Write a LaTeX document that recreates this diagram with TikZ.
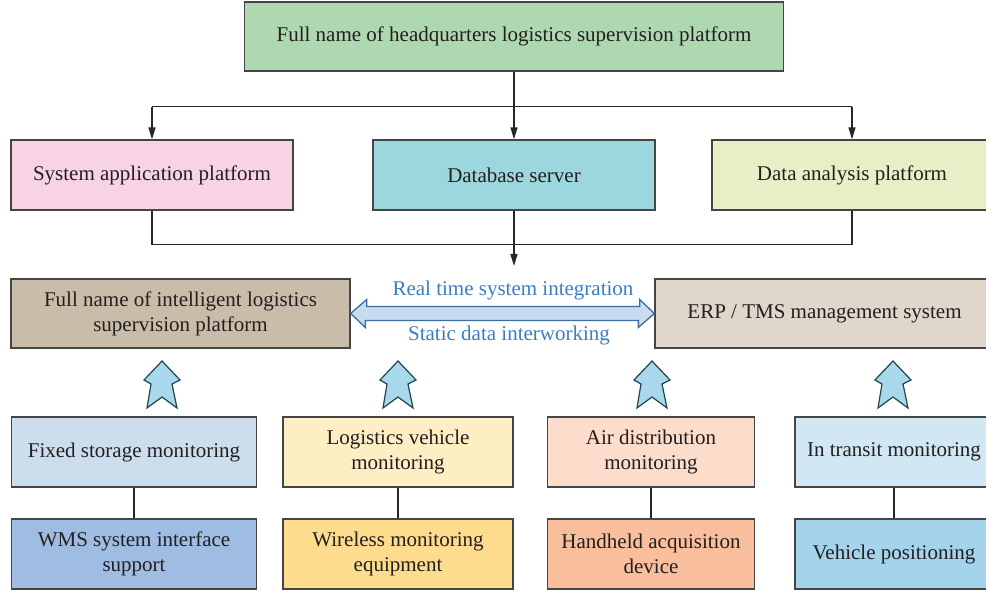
\documentclass[tikz,border=0pt]{standalone}
\usepackage{fontspec}
\setmainfont{Liberation Serif}
\usetikzlibrary{arrows.meta}
\definecolor{boxline}{HTML}{454545}
\definecolor{textgray}{HTML}{231F20}
\definecolor{hqgreen}{HTML}{AED8B0}
\definecolor{apppink}{HTML}{F8D3E5}
\definecolor{dbteal}{HTML}{9DD7DE}
\definecolor{anagreen}{HTML}{E6EFC6}
\definecolor{inteltan}{HTML}{C9BCA9}
\definecolor{erpgray}{HTML}{E0D6CA}
\definecolor{fixtop}{HTML}{CCDDEE}
\definecolor{fixbot}{HTML}{9FBDE2}
\definecolor{vehtop}{HTML}{FDEEC4}
\definecolor{vehbot}{HTML}{FDDC8D}
\definecolor{airtop}{HTML}{FCDDCB}
\definecolor{airbot}{HTML}{F9BE9B}
\definecolor{trntop}{HTML}{D1E7F4}
\definecolor{trnbot}{HTML}{A4D3EC}
\definecolor{linkblue}{HTML}{3D7CC0}
\definecolor{linkfill}{HTML}{C9DCEF}
\definecolor{linkline}{HTML}{3A6EA5}
\definecolor{upfill}{HTML}{A9D7EC}
\definecolor{upline}{HTML}{1D4650}
\tikzset{
  box/.style={draw=boxline, line width=1.3pt, minimum height=70pt, inner sep=2pt, align=center,
    text=textgray, font=\fontsize{21}{25}\selectfont},
  conn/.style={line width=1.4pt, black!85},
  arr/.style={conn, -{Triangle[length=12pt,width=7pt]}},
  linklabel/.style={text=linkblue, font=\fontsize{21}{25}\selectfont},
  linkarrow/.style={draw=linkline, fill=linkfill, line width=1.3pt, line join=miter},
  uparrow/.pic={\draw[draw=upline, fill=upfill, line width=1.2pt, line join=miter]
    (0,0) -- (18,19) -- (10,23) -- (15,47) -- (0,36) -- (-15,47) -- (-11,23) -- (-18,19) -- cycle;}
}
\begin{document}
\begin{tikzpicture}[x=1pt, y=-1pt]
\useasboundingbox (0,0) rectangle (986,593);
\clip (0,0) rectangle (986,593);
\node[box, fill=hqgreen, minimum width=539pt, minimum height=69pt] (hq) at (514,36.5) {Full name of headquarters logistics supervision platform};
\node[box, fill=apppink, minimum width=282pt] (app) at (152,175) {System application platform};
\node[box, fill=dbteal, minimum width=282pt] (db) at (514,175) {Database server};
\node[box, fill=anagreen, minimum width=280pt] (ana) at (852,175) {Data analysis platform};
\node[box, fill=inteltan, minimum width=339pt, minimum height=69pt] (intel) at (180.5,313.5) {Full name of intelligent logistics\\supervision platform};
\node[box, fill=erpgray, minimum width=339pt, minimum height=69pt] (erp) at (824.5,313.5) {ERP / TMS management system};
\draw[conn] (hq.south) -- ++(0,35) coordinate (split);
\draw[conn] (split -| app.north) -- (split -| ana.north);
\foreach \n in {app,db,ana} \draw[arr] (split -| \n.north) -- (\n.north);
\draw[conn] (app.south) -- ++(0,34) -| (ana.south);
\coordinate (merge) at (514,266);
\draw[arr] (db.south) -- (merge);
\draw[linkarrow] (intel.east) -- ++(16,-14) -- ++(0,7) -- ++(273,0) -- ++(0,-7) -- (erp.west)
  -- ++(-16,14) -- ++(0,-7) -- ++(-273,0) -- ++(0,7) -- cycle;
\node[linklabel] (realtime) at (513,290) {Real time system integration};
\node[linklabel] (static) at (509,335) {Static data interworking};
\foreach \x in {162,398,652,893} \pic at (\x,361) {uparrow};
\foreach \n/\x/\w/\ctop/\cbot/\ttop/\tbot in {
  fixed/134/245/fixtop/fixbot/{Fixed storage monitoring}/{WMS system interface\\support},
  vehicle/398/230/vehtop/vehbot/{Logistics vehicle\\monitoring}/{Wireless monitoring\\equipment},
  air/651/207/airtop/airbot/{Air distribution\\monitoring}/{Handheld acquisition\\device},
  transit/894/198/trntop/trnbot/{In transit monitoring}/{Vehicle positioning}}
{
  \node[box, fill=\ctop, minimum width=\w pt] (\n) at (\x,452) {\ttop};
  \node[box, fill=\cbot, minimum width=\w pt] (\n dev) at (\x,554) {\tbot};
  \draw[conn] (\n) -- (\n dev);
}
\end{tikzpicture}
\end{document}
